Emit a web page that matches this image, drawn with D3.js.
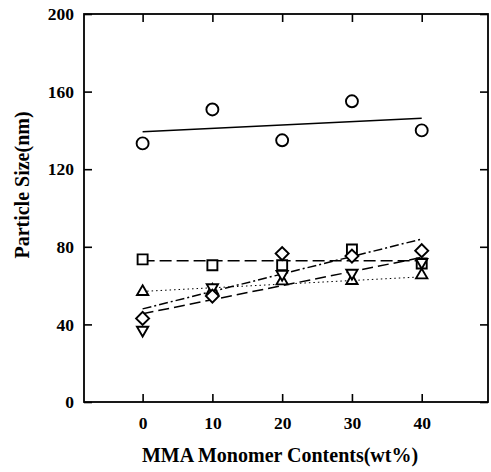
<!DOCTYPE html>
<html lang="en">

<head>
    <meta charset="UTF-8">
    <title>particle size vs MMA</title>
    <script src="https://cdn.jsdelivr.net/npm/d3@7"></script>
    <style>
        body {
            margin: 0;
            background: #fff;
        }

        #chart {
            width: 491px;
            height: 472px;
        }

        text {
            font-family: "Liberation Serif", "Times New Roman", serif;
            font-weight: bold;
        }
    </style>
</head>

<body>
    <div id="chart"></div>
</body>

<script>
    // MMA content (wt%)
    const contents = [0, 10, 20, 30, 40];
    // particle size (nm) for each marker series
    const sizeCircle = [133.3, 150.8, 134.9, 155.0, 140.0];
    const sizeSquare = [73.5, 70.5, 70.5, 78.6, 71.4];
    const sizeTriUp = [56.8, 57.5, 62.3, 62.5, 65.4];
    const sizeDiamond = [43.1, 54.6, 76.5, 75.2, 78.0];
    const sizeTriDown = [37.1, 59.0, 65.9, 66.5, 72.0];
    // trend lines, value at 0 and 40 wt%
    const fitX = [0, 40];
    const fitCircle = [139.3, 146.3];
    const fitSquare = [72.8, 72.8];
    const fitTriUp = [57.0, 64.5];
    const fitDiamond = [48.0, 84.0];
    const fitTriDown = [45.5, 74.5];
    // ticks
    const xTicks = [0, 10, 20, 30, 40];
    const yTicks = [0, 40, 80, 120, 160, 200];

    let draw = () => {
        let svg = d3.select("#chart").append("svg")
            .attr("class", "chart")
            .attr("width", 491)
            .attr("height", 472);

        let padding = { top: 14, left: 84, bottom: 70, right: 3 };
        let width = 491 - padding.left - padding.right;
        let height = 472 - padding.top - padding.bottom;

        let focus = svg.append("g")
            .attr("transform", "translate(" + padding.left + "," + padding.top + ")");

        let x = d3.scaleLinear().domain([-8.4, 49.5]).range([0, width]);
        let y = d3.scaleLinear().domain([0, 200]).range([height, 0]);

        // ticks point inward on all four sides
        let axes = [
            [d3.axisBottom(x).tickValues(xTicks).tickPadding(15), "translate(0," + height + ")"],
            [d3.axisTop(x).tickValues(xTicks).tickFormat(""), "translate(0,0)"],
            [d3.axisLeft(y).tickValues(yTicks).tickPadding(10), "translate(0,0)"],
            [d3.axisRight(y).tickValues(yTicks).tickFormat(""), "translate(" + width + ",0)"]
        ];
        axes.forEach(([ax, tr]) => {
            let g = focus.append("g")
                .attr("transform", tr)
                .call(ax.tickSizeInner(-8).tickSizeOuter(0));
            g.select(".domain").remove();
            g.selectAll("line").attr("stroke", "#000").attr("stroke-width", 1.6);
            g.selectAll("text")
                .attr("fill", "#000")
                .style("font-size", "17.5px")
                .style("font-family", "'Liberation Serif', serif")
                .style("font-weight", "bold");
        });

        // frame
        focus.append("rect")
            .attr("width", width)
            .attr("height", height)
            .attr("fill", "none")
            .attr("stroke", "#000")
            .attr("stroke-width", 1.8);

        // trend lines
        let line = d3.line().x((d, i) => x(fitX[i])).y(d => y(d));
        let fits = [
            [fitCircle, null, 1.5],
            [fitSquare, "12,5", 1.5],
            [fitTriUp, "1.5,3", 1],
            [fitDiamond, "9,3,2,3", 1.5],
            [fitTriDown, "11,5", 1.5]
        ];
        fits.forEach(([vals, dash, sw]) => {
            focus.append("path")
                .attr("d", line(vals))
                .attr("fill", "none")
                .attr("stroke", "#000")
                .attr("stroke-width", sw)
                .attr("stroke-dasharray", dash);
        });

        // markers
        let series = [
            [sizeSquare, d3.symbolSquare, 100, 0],
            [sizeTriUp, d3.symbolTriangle, 55, 0],
            [sizeTriDown, d3.symbolTriangle, 55, 180],
            [sizeDiamond, d3.symbolSquare, 85, 45],
            [sizeCircle, d3.symbolCircle, 113, 0]
        ];
        series.forEach(([vals, type, size, rot]) => {
            focus.append("g").selectAll("path")
                .data(vals)
                .enter().append("path")
                .attr("d", d3.symbol().type(type).size(size))
                .attr("transform", (d, i) => "translate(" + x(contents[i]) + "," + y(d) + ") rotate(" + rot + ")")
                .attr("fill", "#fff")
                .attr("stroke", "#000")
                .attr("stroke-width", 1.9);
        });

        // axis titles
        svg.append("text")
            .attr("x", 280)
            .attr("y", 462)
            .attr("text-anchor", "middle")
            .style("font-size", "20px")
            .text("MMA Monomer Contents(wt%)");

        svg.append("text")
            .attr("transform", "translate(29,185) rotate(-90)")
            .attr("text-anchor", "middle")
            .style("font-size", "20px")
            .text("Particle Size(nm)");
    }

    draw();
</script>

</html>
